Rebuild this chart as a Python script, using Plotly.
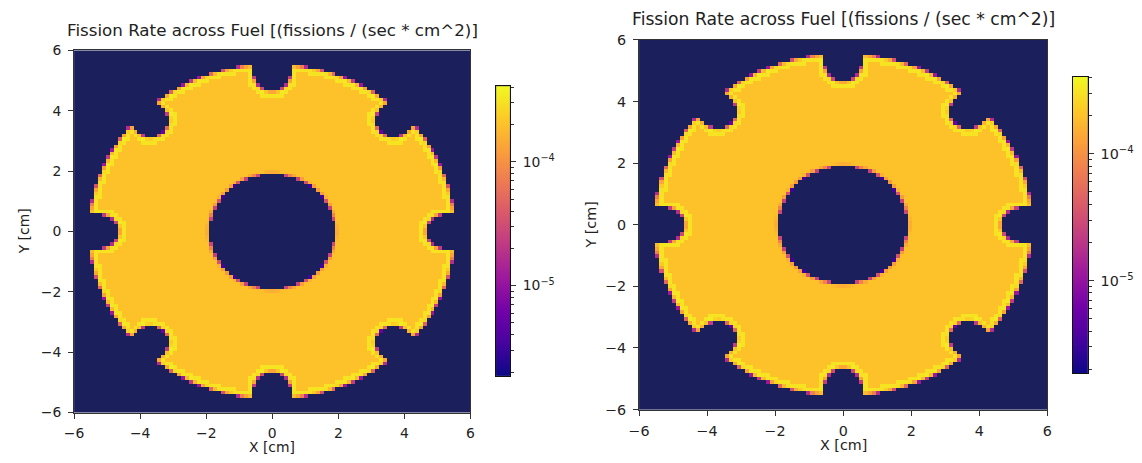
import numpy as np
import plotly.graph_objects as go

# ---------------- data ----------------
X_RANGE = [-6.0, 6.0]            # cm, both axes
N_CELLS = 100                    # mesh cells per axis
SUPERSAMPLE = 8                  # sub-points per cell edge for partial cells
FUEL_OUTER_RADIUS = 5.5          # cm
FUEL_INNER_RADIUS = 1.95         # cm
NOTCH_ANGLES_DEG = [0, 45, 90, 135, 180, 225, 270, 315]
NOTCH_CENTER_RADIUS = 5.2        # cm
NOTCH_RADIUS = 0.6               # cm
BULK_RATE = 2.0e-4               # fissions / (sec * cm^2)
OUTER_EDGE_RATE = 3.6e-4         # cells cut by the outer surface
OUTER_SKIN_RATE = 3.1e-4         # first full cells under the outer surface
COLOR_RANGE = [1.87e-6, 4.07e-4]
CBAR_MAJOR = [1e-5, 1e-4]
CBAR_MAJOR_TEXT = ["10<sup>\u22125</sup>", "10<sup>\u22124</sup>"]
AXIS_TICKS = [-6, -4, -2, 0, 2, 4, 6]
AXIS_TICK_TEXT = ["\u22126", "\u22124", "\u22122", "0", "2", "4", "6"]
TITLE = "Fission Rate across Fuel [(fissions / (sec * cm^2)]"
X_LABEL = "X [cm]"
Y_LABEL = "Y [cm]"

# ---------------- build mesh table ----------------
n, s = N_CELLS, SUPERSAMPLE
cell = (X_RANGE[1] - X_RANGE[0]) / n
centers = X_RANGE[0] + (np.arange(n) + 0.5) * cell
sub = X_RANGE[0] + (np.arange(n * s) + 0.5) * cell / s
XX, YY = np.meshgrid(sub, sub)
RR = np.hypot(XX, YY)
outer = RR <= FUEL_OUTER_RADIUS
for a in NOTCH_ANGLES_DEG:
    t = np.deg2rad(a)
    u = XX * np.cos(t) + YY * np.sin(t)
    v = -XX * np.sin(t) + YY * np.cos(t)
    notch = ((u - NOTCH_CENTER_RADIUS) ** 2 + v ** 2 < NOTCH_RADIUS ** 2) | (
        (np.abs(v) < NOTCH_RADIUS) & (u > NOTCH_CENTER_RADIUS))
    outer &= ~notch
hole = RR < FUEL_INNER_RADIUS
fuel = outer & ~hole


def coverage(m):
    return m.reshape(n, s, n, s).mean(axis=(1, 3))


def dilate4(m):
    p = np.pad(m, 1)
    return (p[1:-1, 1:-1] | p[:-2, 1:-1] | p[2:, 1:-1]
            | p[1:-1, :-2] | p[1:-1, 2:])


f = coverage(fuel)
fo = coverage(outer)
edge = fo < 1
rate = np.full((n, n), BULK_RATE)
rate[dilate4(edge)] = OUTER_SKIN_RATE
rate[edge] = OUTER_EDGE_RATE
val = f * rate
with np.errstate(divide="ignore"):
    zlog = np.where(val > 0, np.log10(np.where(val > 0, val, 1)), np.nan)

lo, hi = np.log10(COLOR_RANGE[0]), np.log10(COLOR_RANGE[1])
cbar_y = np.linspace(lo, hi, 400)
cbar_z = [[yv] for yv in cbar_y]
minor_vals = []
for dec in (-6, -5, -4):
    for k in range(2, 10):
        lv = np.log10(k * 10.0 ** dec)
        if lo < lv < hi:
            minor_vals.append(lv)

# ---------------- figure ----------------
W, H = 1142, 463
FONT = "DejaVu Sans"
TXT = "#222222"
NAVY = "#1b1f5c"

fig = go.Figure()

panels = [
    # main axes px box (x0, x1, ytop, ybottom), colorbar px box, font scale
    dict(main=(64, 466, 44, 419), cbar=(492, 506, 81, 381), k=1.0,
         ylab_dx=51, xlab_dy=36),
    dict(main=(637, 1051, 33, 416), cbar=(1077, 1092, 71, 378), k=1.03,
         ylab_dx=49, xlab_dy=37),
]


def xd(a, b):
    return [a / W, b / W]


def yd(top, bot):
    return [1 - bot / H, 1 - top / H]


layout_axes = {}
annotations = []
for i, p in enumerate(panels):
    k = p["k"]
    tick_size = 13.9 * k
    mi = 2 * i + 1
    ci = 2 * i + 2
    mx = "x" if mi == 1 else f"x{mi}"
    my = "y" if mi == 1 else f"y{mi}"
    cx, cy = f"x{ci}", f"y{ci}"
    fig.add_trace(go.Heatmap(
        x=centers, y=centers, z=zlog, colorscale="Plasma", zmin=lo, zmax=hi,
        showscale=False, xaxis=mx, yaxis=my, hoverongaps=False))
    fig.add_trace(go.Heatmap(
        x=[0], y=cbar_y, z=cbar_z, colorscale="Plasma", zmin=lo, zmax=hi,
        showscale=False, xaxis=cx, yaxis=cy))
    x0, x1, yt, yb = p["main"]
    axcommon = dict(showgrid=False, zeroline=False, showline=True, mirror=True,
                    linecolor="#333333", linewidth=1, ticks="outside", ticklen=5,
                    tickwidth=1, tickcolor="#333333",
                    tickfont=dict(family=FONT, size=tick_size, color=TXT),
                    tickmode="array", tickvals=AXIS_TICKS, ticktext=AXIS_TICK_TEXT,
                    range=X_RANGE, fixedrange=True)
    layout_axes["xaxis" if mi == 1 else f"xaxis{mi}"] = dict(
        domain=xd(x0, x1), anchor=my, ticklabelstandoff=3, **axcommon)
    layout_axes["yaxis" if mi == 1 else f"yaxis{mi}"] = dict(
        domain=yd(yt, yb), anchor=mx, ticklabelstandoff=4, **axcommon)
    c0, c1, ct, cb = p["cbar"]
    layout_axes[f"xaxis{ci}"] = dict(
        domain=xd(c0, c1), anchor=cy, range=[-0.5, 0.5], showticklabels=False,
        ticks="", showgrid=False, zeroline=False, showline=True, mirror=True,
        linecolor="#111111", linewidth=1)
    layout_axes[f"yaxis{ci}"] = dict(
        domain=yd(ct, cb), anchor=cx, side="right", range=[lo, hi],
        showgrid=False, zeroline=False, showline=True, mirror=True,
        linecolor="#111111", linewidth=1, ticks="outside", ticklen=5,
        tickwidth=1, tickcolor="#333333", tickmode="array",
        tickvals=[np.log10(v) for v in CBAR_MAJOR], ticktext=CBAR_MAJOR_TEXT,
        tickfont=dict(family=FONT, size=tick_size, color=TXT), ticklabelstandoff=4,
        minor=dict(tickmode="array", tickvals=minor_vals, ticks="outside",
                   ticklen=3, tickwidth=1, tickcolor="#333333", showgrid=False))

    cxm = (x0 + x1) / 2 / W
    annotations.append(dict(text=TITLE, x=cxm, y=1 - (yt - 9) / H, xref="paper",
                            yref="paper", xanchor="center", yanchor="bottom",
                            showarrow=False,
                            font=dict(family=FONT, size=16.7 * k, color=TXT)))
    annotations.append(dict(text=X_LABEL, x=cxm, y=1 - (yb + p["xlab_dy"]) / H,
                            xref="paper", yref="paper", xanchor="center",
                            yanchor="middle", showarrow=False,
                            font=dict(family=FONT, size=tick_size, color=TXT)))
    annotations.append(dict(text=Y_LABEL, x=(x0 - p["ylab_dx"]) / W,
                            y=1 - (yt + yb) / 2 / H,
                            xref="paper", yref="paper", xanchor="center",
                            yanchor="middle", textangle=-90, showarrow=False,
                            font=dict(family=FONT, size=tick_size, color=TXT)))

fig.update_layout(
    width=W, height=H, margin=dict(l=0, r=0, t=0, b=0),
    paper_bgcolor="white", plot_bgcolor=NAVY, showlegend=False,
    annotations=annotations, font=dict(family=FONT, color=TXT), **layout_axes)

fig.write_html("out.html", config={"displayModeBar": False})
